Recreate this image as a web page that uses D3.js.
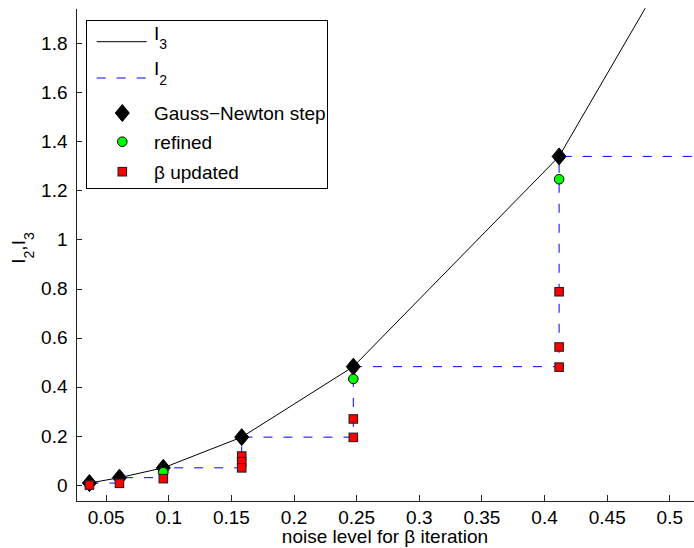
<!DOCTYPE html>
<html>
<head>
<meta charset="utf-8">
<script src="https://cdn.jsdelivr.net/npm/d3@7"></script>
<style>
  html, body { margin: 0; padding: 0; background: #fff; }
  svg { display: block; }
  text { font-family: "Liberation Sans", Arial, Helvetica, sans-serif; }
</style>
</head>
<body>
<svg id="chart" width="694" height="548"></svg>
<script>
// ---- data ----
const xTicks = [0.05, 0.1, 0.15, 0.2, 0.25, 0.3, 0.35, 0.4, 0.45, 0.5];
const yTicks = [0, 0.2, 0.4, 0.6, 0.8, 1, 1.2, 1.4, 1.6, 1.8];

// noise levels of the Gauss-Newton steps
const stepX = [0.037, 0.061, 0.096, 0.1586, 0.2477, 0.412];
// Gauss-Newton step values (diamonds)
const gaussNewton = [0.008, 0.03, 0.07, 0.195, 0.482, 1.338];

// I3 polyline (solid black)
const i3X = [0.037, 0.061, 0.096, 0.1586, 0.2477, 0.412, 0.5];
const i3Y = [0.008, 0.03, 0.07, 0.195, 0.482, 1.338, 2.11];

// I2 staircase (dashed blue), step-after levels
const i2X = [0.037, 0.061, 0.096, 0.1586, 0.2477, 0.412, 0.52];
const i2Y = [0.008, 0.03, 0.07, 0.195, 0.482, 1.338, 1.338];

// refined (green circles)
const refinedX = [0.096, 0.2477, 0.412];
const refinedY = [0.052, 0.432, 1.245];

// beta updated (red squares)
const betaX = [0.037, 0.061, 0.096, 0.1586, 0.1586, 0.1586, 0.2477, 0.2477, 0.412, 0.412, 0.412];
const betaY = [0.0, 0.007, 0.026, 0.118, 0.095, 0.070, 0.269, 0.194, 0.787, 0.562, 0.480];

// ---- layout ----
const svg = d3.select("#chart");
const pLeft = 76, pRight = 694, pTop = 8.3, pBottom = 501;
const x = d3.scaleLinear().domain([0.0263, 0.5197]).range([pLeft, pRight]);
const y = d3.scaleLinear().domain([-0.065, 1.941]).range([pBottom, pTop]);
const FONT = 19;

svg.append("defs").append("clipPath").attr("id", "plotclip")
  .append("rect").attr("x", pLeft).attr("y", pTop).attr("width", pRight - pLeft).attr("height", pBottom - pTop);

// axes
const gx = svg.append("g").attr("transform", `translate(0,${pBottom})`)
  .call(d3.axisBottom(x).tickValues(xTicks).tickFormat(d3.format("~g"))
    .tickSizeInner(-6).tickSizeOuter(0).tickPadding(9.5));
const gy = svg.append("g").attr("transform", `translate(${pLeft},0)`)
  .call(d3.axisLeft(y).tickValues(yTicks).tickFormat(d3.format("~g"))
    .tickSizeInner(-6).tickSizeOuter(0).tickPadding(8.5));
[gx, gy].forEach(g => {
  g.attr("font-family", null).attr("font-size", null);
  g.selectAll("text").attr("font-size", FONT).attr("fill", "#000");
  g.selectAll("path, line").attr("stroke", "#222").attr("shape-rendering", "crispEdges");
});

// plot marks
const plot = svg.append("g").attr("clip-path", "url(#plotclip)");

const i3Pts = i3X.map((v, i) => [v, i3Y[i]]);
plot.append("path").datum(i3Pts)
  .attr("fill", "none").attr("stroke", "#000").attr("stroke-width", 1)
  .attr("d", d3.line().x(d => x(d[0])).y(d => y(d[1])));

const i2Pts = i2X.map((v, i) => [v, i2Y[i]]);
plot.append("path").datum(i2Pts)
  .attr("fill", "none").attr("stroke", "#0000ff").attr("stroke-width", 1)
  .attr("stroke-dasharray", "9,11")
  .attr("d", d3.line().curve(d3.curveStepAfter).x(d => x(d[0])).y(d => y(d[1])));

const diamond = "M0,-8.5L7,0L0,8.5L-7,0Z";
plot.selectAll(".gn").data(stepX.map((v, i) => [v, gaussNewton[i]])).join("path")
  .attr("class", "gn").attr("d", diamond)
  .attr("transform", d => `translate(${x(d[0])},${y(d[1])})`)
  .attr("fill", "#000").attr("stroke", "#000");

plot.selectAll(".ref").data(refinedX.map((v, i) => [v, refinedY[i]])).join("circle")
  .attr("class", "ref").attr("cx", d => x(d[0])).attr("cy", d => y(d[1])).attr("r", 4.8)
  .attr("fill", "#00ff00").attr("stroke", "#000").attr("stroke-width", 1);

const sq = 8.5;
plot.selectAll(".beta").data(betaX.map((v, i) => [v, betaY[i]])).join("rect")
  .attr("class", "beta")
  .attr("x", d => x(d[0]) - sq / 2).attr("y", d => y(d[1]) - sq / 2)
  .attr("width", sq).attr("height", sq)
  .attr("fill", "#ff0000").attr("stroke", "#222").attr("stroke-width", 1.1);

// axis labels
svg.append("text").attr("x", (pLeft + pRight) / 2).attr("y", 543)
  .attr("text-anchor", "middle").attr("font-size", FONT).text("noise level for β iteration");

const yl = svg.append("text").attr("transform", "translate(24.5,248) rotate(-90)")
  .attr("text-anchor", "middle").attr("font-size", FONT);
yl.append("tspan").text("I");
yl.append("tspan").attr("font-size", 14).attr("dy", 9.5).text("2");
yl.append("tspan").attr("dy", -9.5).text(",I");
yl.append("tspan").attr("font-size", 14).attr("dy", 9.5).text("3");

// legend
const lg = svg.append("g");
lg.append("rect").attr("x", 86.5).attr("y", 20.5).attr("width", 240.5).attr("height", 167.5)
  .attr("fill", "#fff").attr("stroke", "#000").attr("stroke-width", 1).attr("shape-rendering", "crispEdges");
const lx0 = 96.7, lx1 = 146.7, mx = 122.3, tx = 154;
const rows = [41.7, 78, 113, 141.7, 171.7];

lg.append("line").attr("x1", lx0).attr("x2", lx1).attr("y1", rows[0]).attr("y2", rows[0])
  .attr("stroke", "#000").attr("stroke-width", 1);
lg.append("line").attr("x1", lx0).attr("x2", lx1).attr("y1", rows[1]).attr("y2", rows[1])
  .attr("stroke", "#0000ff").attr("stroke-width", 1).attr("stroke-dasharray", "9,11");

function subLabel(yBase, sub) {
  const t = lg.append("text").attr("x", tx).attr("y", yBase).attr("font-size", FONT);
  t.append("tspan").text("I");
  t.append("tspan").attr("font-size", 14).attr("dy", 9.5).text(sub);
}
subLabel(rows[0] - 2, "3");
subLabel(rows[1] - 3, "2");

lg.append("path").attr("d", diamond).attr("transform", `translate(${mx},${rows[2]})`)
  .attr("fill", "#000").attr("stroke", "#000");
lg.append("circle").attr("cx", mx).attr("cy", rows[3]).attr("r", 4.8)
  .attr("fill", "#00ff00").attr("stroke", "#000");
lg.append("rect").attr("x", mx - sq / 2).attr("y", rows[4] - sq / 2).attr("width", sq).attr("height", sq)
  .attr("fill", "#ff0000").attr("stroke", "#222").attr("stroke-width", 1.1);

const labels = ["Gauss\u2212Newton step", "refined", "β updated"];
labels.forEach((s, i) => {
  lg.append("text").attr("x", tx).attr("y", rows[i + 2] + 6.8).attr("font-size", FONT).text(s);
});
</script>
</body>
</html>
